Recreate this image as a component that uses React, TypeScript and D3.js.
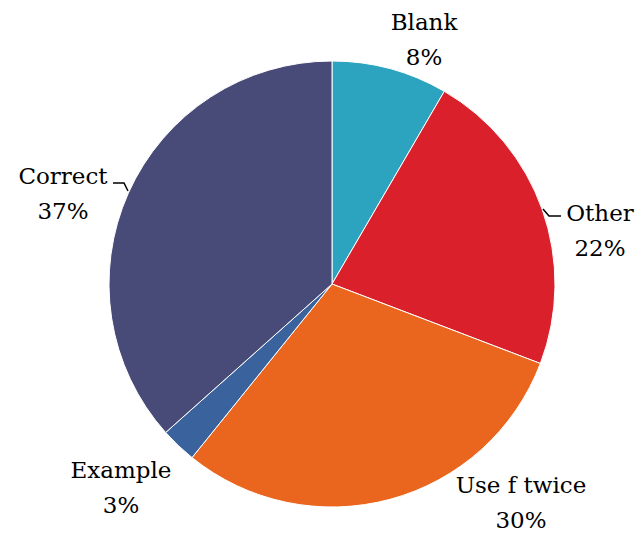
import React from "react";
import * as d3 from "d3";

const categories = ["Blank", "Other", "Use f twice", "Example", "Correct"];
const values = [8.4, 22.4, 30.0, 2.6, 36.6];
const pctLabels = ["8%", "22%", "30%", "3%", "37%"];
const colors = ["#2CA4C0", "#DA202B", "#EA661E", "#3A629C", "#484B78"];

const W = 644, H = 533;
const cx = 332, cy = 284, R = 223;

// label anchor positions (center x, first baseline)
const labelPos: [number, number][] = [
  [424, 30],
  [600, 221],
  [521, 493],
  [121, 478],
  [63, 184],
];

export default function App() {
  const pie = d3.pie<number>().sort(null).value((d) => d)(values);
  const arc = d3.arc<d3.PieArcDatum<number>>().innerRadius(0).outerRadius(R);
  const lineH = 35;
  return (
    <svg width={W} height={H} style={{ position: "absolute", left: 0, top: 0, background: "#fff" }}>
      <g transform={`translate(${cx},${cy})`}>
        {pie.map((p, i) => (
          <path key={i} d={arc(p) || ""} fill={colors[i]} stroke="#fff" strokeWidth={1} />
        ))}
      </g>
      {/* leader lines */}
      <path d="M113,183 H124 L128,191" fill="none" stroke="#000" strokeWidth={1.5} />
      <path d="M543,209 L549,216 H561" fill="none" stroke="#000" strokeWidth={1.5} />
      {categories.map((c, i) => (
        <text
          key={c}
          x={labelPos[i][0]}
          y={labelPos[i][1]}
          textAnchor="middle"
          fontFamily="DejaVu Serif"
          fontSize={23}
          fill="#000"
        >
          <tspan x={labelPos[i][0]}>{c}</tspan>
          <tspan x={labelPos[i][0]} dy={lineH}>{pctLabels[i]}</tspan>
        </text>
      ))}
    </svg>
  );
}
